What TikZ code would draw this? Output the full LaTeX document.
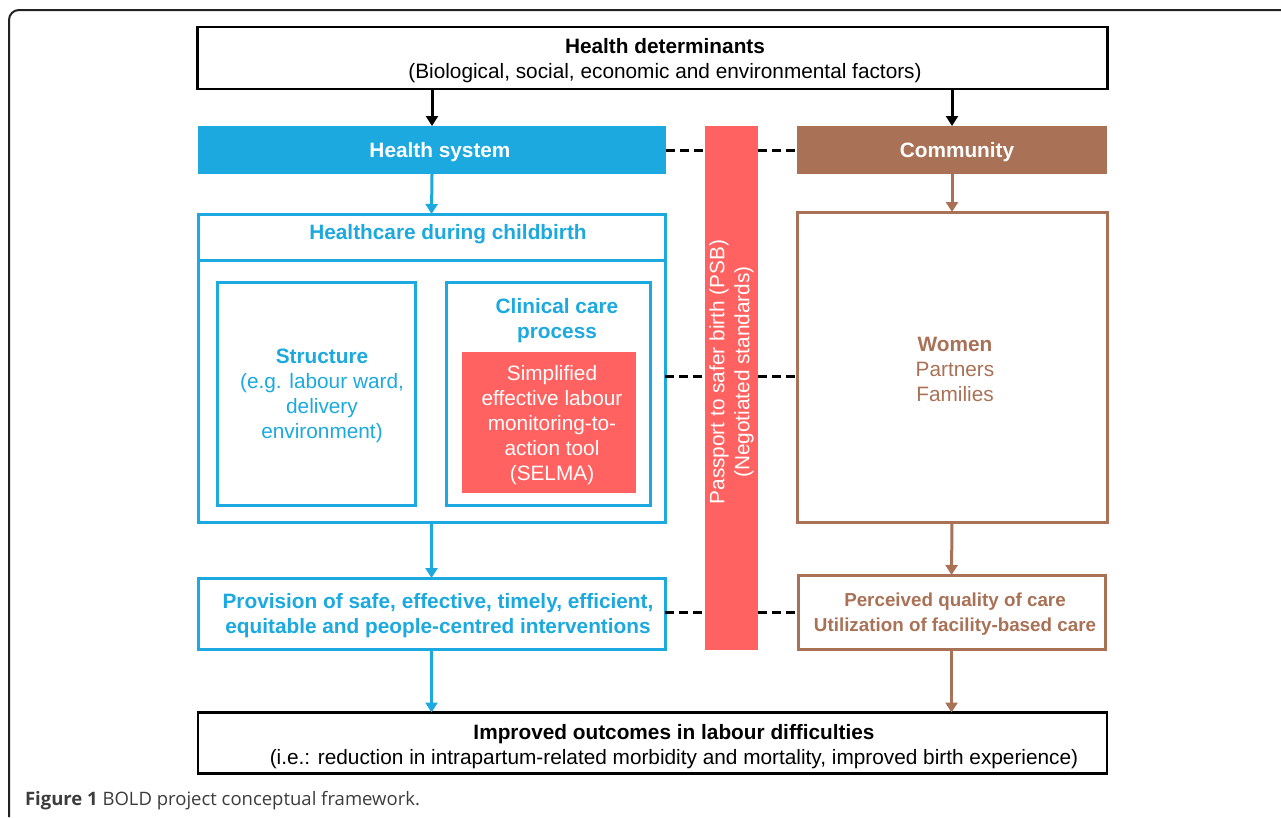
\documentclass[tikz,border=0pt]{standalone}
\usepackage{fontspec}
\setmainfont{Liberation Sans}
\newfontfamily\capfont{Open Sans}
\usetikzlibrary{arrows.meta}
\definecolor{c1BA9DF}{RGB}{27,169,223}
\definecolor{cA97156}{RGB}{169,113,86}
\definecolor{cFF6260}{RGB}{255,98,96}
\definecolor{c222222}{RGB}{34,34,34}
\definecolor{c3C3C3C}{RGB}{60,60,60}

\begin{document}
\begin{tikzpicture}[y=1pt,x=1pt,yscale=-1, inner sep=0pt, outer sep=0pt,
    txt/.style={font=\fontsize{20.8}{25}\selectfont, align=center},
    blackbox/.style={draw=black, line width=2.8pt, rectangle},
    bluebox/.style={draw=c1BA9DF, line width=3pt, rectangle},
    brownbox/.style={draw=cA97156, line width=3pt, rectangle},
    arr/.style={line width=3pt, -{Triangle[width=12pt,length=10pt]}},
    dashline/.style={draw=black, line width=3pt, dash pattern=on 9pt off 5pt}]
  \useasboundingbox (0,0) rectangle (1281,817);
  % frame
  \draw[c222222, line width=2pt, rounded corners=10pt] (9,817) -- (9,10) -- (1281,10);

  % top and bottom
  \node[blackbox, minimum width=910pt, minimum height=62pt] (hd) at (652.5,58) {};
  \node[txt] (hdtext) at (665,61) {\textbf{Health determinants}\\(Biological, social, economic and environmental factors)};
  \node[blackbox, minimum width=909pt, minimum height=61pt] (out) at (652.5,743) {};
  \node[txt] (outtext) at (674,747) {\textbf{Improved outcomes in labour difficulties}\\(i.e.: reduction in intrapartum-related morbidity and mortality, improved birth experience)};

  % health system side
  \node[fill=c1BA9DF, minimum width=468pt, minimum height=48pt] (hs) at (432,150) {};
  \node[txt, text=white] (hstext) at (440,152.5) {\textbf{Health system}};
  \node[bluebox, minimum width=467pt, minimum height=308pt] (hc) at (431.5,368) {};
  \coordinate (hcline) at (431.5,260);
  \draw[c1BA9DF, line width=3pt] (hc.west |- hcline) -- (hc.east |- hcline);
  \node[txt, text=c1BA9DF] (hctitle) at (448,234.5) {\textbf{Healthcare during childbirth}};
  \node[bluebox, minimum width=198pt, minimum height=223pt] (st) at (316,393.5) {};
  \node[txt, text=c1BA9DF] (sttext) at (322,396) {\textbf{Structure}\\(e.g. labour ward,\\delivery\\environment)};
  \node[bluebox, minimum width=204pt, minimum height=223pt] (cc) at (548,393.5) {};
  \node[txt, text=c1BA9DF] (cctitle) at (557,321) {\textbf{Clinical care}\\\textbf{process}};
  \node[fill=cFF6260, minimum width=174pt, minimum height=141pt] (sl) at (549,422.5) {};
  \node[txt, text=white] (sltext) at (552,425.5) {Simplified\\effective labour\\monitoring-to-\\action tool\\(SELMA)};
  \node[bluebox, minimum width=467pt, minimum height=71pt] (pv) at (431.5,613.5) {};
  \node[txt, text=c1BA9DF] (pvtext) at (438,616) {\textbf{Provision of safe, effective, timely, efficient,}\\\textbf{equitable and people-centred interventions}};

  % passport bar
  \node[fill=cFF6260, minimum width=53pt, minimum height=524pt] (psb) at (731.5,388) {};
  \node[txt, text=white, rotate=90] (psbtext) at (731.5,372) {Passport to safer birth (PSB)\\(Negotiated standards)};

  % community side
  \node[fill=cA97156, minimum width=310pt, minimum height=48pt] (cm) at (952,150) {};
  \node[txt, text=white] (cmtext) at (957,152.5) {\textbf{Community}};
  \node[brownbox, minimum width=310pt, minimum height=310pt] (wm) at (952,367) {};
  \node[txt, text=cA97156] (wmtext) at (955,369) {\textbf{Women}\\Partners\\Families};
  \node[brownbox, minimum width=307pt, minimum height=74pt] (pq) at (951.5,612) {};
  \node[text=cA97156, font=\fontsize{18.8}{25}\selectfont\bfseries, align=center] (pqtext) at (955,614.5) {Perceived quality of care\\Utilization of facility-based care};

  % arrows
  \draw[arr, black] (hs.north |- hd.south) -- (hs.north);
  \draw[arr, black] (cm.north |- hd.south) -- (cm.north);
  \draw[arr, c1BA9DF] (hs.south) -- (hc.north);
  \draw[arr, c1BA9DF] (hc.south) -- (pv.north);
  \draw[arr, c1BA9DF] (pv.south) -- (pv.south |- out.north);
  \draw[arr, cA97156] (cm.south) -- (wm.north);
  \draw[arr, cA97156] (wm.south) -- (pq.north);
  \draw[arr, cA97156] (pq.south) -- (pq.south |- out.north);

  % dashed links
  \coordinate (midlink) at (731.5,376);
  \draw[dashline] (hs.east) -- (hs.east -| psb.west);
  \draw[dashline] (cm.west -| psb.east) -- (cm.west);
  \draw[dashline] (hc.east |- midlink) -- (psb.west |- midlink);
  \draw[dashline] (psb.east |- midlink) -- (wm.west |- midlink);
  \draw[dashline] (pv.east |- pq.west) -- (psb.west |- pq.west);
  \draw[dashline] (psb.east |- pq.west) -- (pq.west);

  % caption
  \node[anchor=west, text=c3C3C3C, font=\capfont\fontsize{18.5}{22}\selectfont] (cap) at (25,801) {\textbf{Figure 1} BOLD project conceptual framework.};
\end{tikzpicture}
\end{document}
